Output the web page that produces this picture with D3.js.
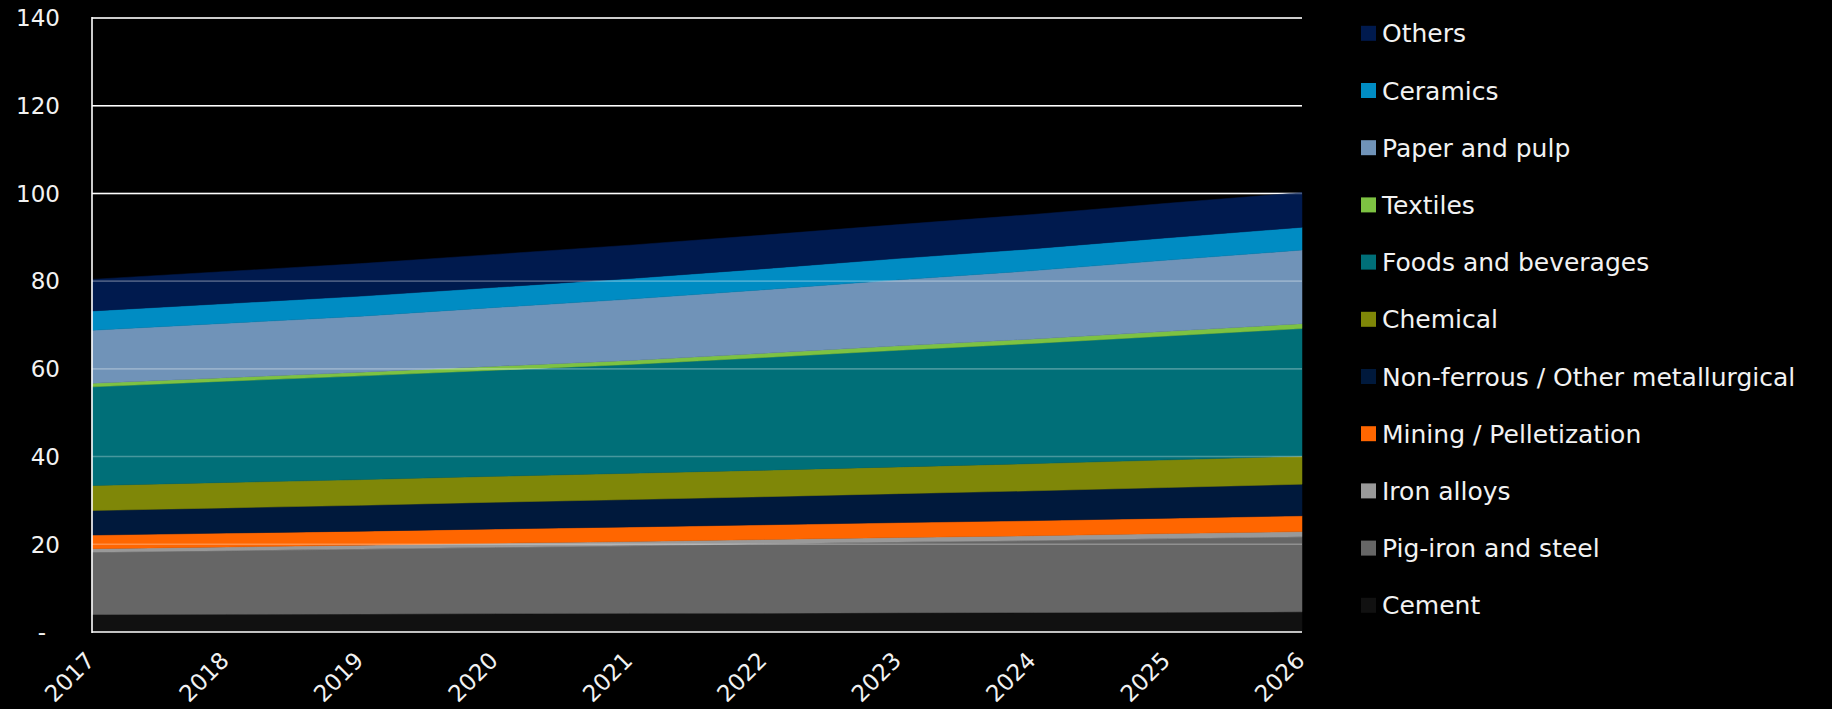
<!DOCTYPE html>
<html>
<head>
<meta charset="utf-8">
<script src="https://cdn.jsdelivr.net/npm/d3@7"></script>
<style>
  html, body { margin: 0; padding: 0; background: #000; }
  svg { display: block; }
  text { font-family: "Century Gothic", "DejaVu Sans", sans-serif; fill: #f2f2f2; }
</style>
</head>
<body>
<svg id="chart" width="1832" height="709"></svg>
<script>
// years on the x axis
var years = [2017, 2018, 2019, 2020, 2021, 2022, 2023, 2024, 2025, 2026];

// series values (bottom of the stack first)
var cement      = [4.0, 4.05, 4.1, 4.2, 4.25, 4.3, 4.4, 4.45, 4.5, 4.6];
var pigIron     = [14.2, 14.5, 14.8, 15.1, 15.4, 15.8, 16.1, 16.4, 16.8, 17.1];
var ironAlloys  = [0.8, 0.85, 0.9, 0.95, 1.0, 1.0, 1.05, 1.1, 1.15, 1.2];
var mining      = [3.1, 3.15, 3.2, 3.25, 3.3, 3.35, 3.4, 3.45, 3.5, 3.6];
var nonFerrous  = [5.6, 5.75, 5.9, 6.1, 6.25, 6.4, 6.6, 6.8, 7.0, 7.2];
var chemical    = [5.7, 5.8, 5.85, 5.9, 6.0, 6.05, 6.1, 6.2, 6.3, 6.4];
var foods       = [22.5, 23.1, 23.65, 24.2, 24.8, 25.7, 26.6, 27.4, 28.25, 29.1];
var textiles    = [0.8, 0.8, 0.85, 0.9, 0.9, 0.95, 1.0, 1.0, 1.05, 1.1];
var paper       = [12.1, 12.4, 12.75, 13.4, 14.0, 14.5, 15.05, 15.6, 16.25, 16.8];
var ceramics    = [4.4, 4.5, 4.6, 4.6, 4.7, 4.8, 4.9, 5.0, 5.1, 5.2];
var others      = [7.2, 7.3, 7.4, 7.5, 7.6, 7.65, 7.7, 7.8, 7.85, 7.9];

var seriesNames = ["Cement", "Pig-iron and steel", "Iron alloys", "Mining / Pelletization",
  "Non-ferrous / Other metallurgical", "Chemical", "Foods and beverages", "Textiles",
  "Paper and pulp", "Ceramics", "Others"];
var seriesValues = [cement, pigIron, ironAlloys, mining, nonFerrous, chemical, foods,
  textiles, paper, ceramics, others];
var seriesColors = ["#111111", "#666666", "#999999", "#ff6600", "#00193c", "#7f8708",
  "#006f78", "#7dc242", "#7093b8", "#008cc3", "#001a4e"];

var yTicks = [0, 20, 40, 60, 80, 100, 120, 140];

// build rows for d3.stack
var rows = years.map(function(yr, i) {
  var r = { year: yr };
  seriesNames.forEach(function(n, k) { r[n] = seriesValues[k][i]; });
  return r;
});

var svg = d3.select("#chart");
var plotLeft = 92, plotRight = 1302, plotTop = 18, plotBottom = 632;

var x = d3.scaleLinear().domain([2017, 2026]).range([plotLeft, plotRight]);
var y = d3.scaleLinear().domain([0, 140]).range([plotBottom, plotTop]);
var color = d3.scaleOrdinal().domain(seriesNames).range(seriesColors);

var stack = d3.stack().keys(seriesNames);
var layers = stack(rows);

var area = d3.area()
  .x(function(d) { return x(d.data.year); })
  .y0(function(d) { return y(d[0]); })
  .y1(function(d) { return y(d[1]); });

// gridlines underneath (show pure white above the areas)
svg.append("g").selectAll("line")
  .data(yTicks.filter(function(t) { return t > 0; }))
  .join("line")
  .attr("x1", plotLeft).attr("x2", plotRight)
  .attr("y1", function(d) { return y(d); })
  .attr("y2", function(d) { return y(d); })
  .attr("stroke", "#ffffff")
  .attr("stroke-width", 1.6);

svg.append("g").selectAll("path")
  .data(layers)
  .join("path")
  .attr("d", area)
  .attr("fill", function(d) { return color(d.key); })
  .attr("stroke", function(d) { return color(d.key); })
  .attr("stroke-width", 0.5);

// faint gridlines on top of the areas
svg.append("g").selectAll("line")
  .data(yTicks.filter(function(t) { return t > 0; }))
  .join("line")
  .attr("x1", plotLeft).attr("x2", plotRight)
  .attr("y1", function(d) { return y(d); })
  .attr("y2", function(d) { return y(d); })
  .attr("stroke", "#ffffff")
  .attr("stroke-opacity", 0.28)
  .attr("stroke-width", 1.6);

// axis lines
svg.append("line")
  .attr("x1", plotLeft).attr("x2", plotLeft).attr("y1", plotTop - 1).attr("y2", plotBottom + 1)
  .attr("stroke", "#ffffff").attr("stroke-width", 1.6);
svg.append("line")
  .attr("x1", plotLeft).attr("x2", plotRight).attr("y1", plotBottom).attr("y2", plotBottom)
  .attr("stroke", "#ffffff").attr("stroke-width", 1.6);

// y tick labels
svg.append("g").selectAll("text")
  .data(yTicks)
  .join("text")
  .attr("x", function(d) { return d === 0 ? 46 : 60; })
  .attr("y", function(d) { return y(d); })
  .attr("dy", "0.36em")
  .attr("text-anchor", "end")
  .style("font-size", "23px")
  .text(function(d) { return d === 0 ? "-" : d; });

// x tick labels, rotated
svg.append("g").selectAll("text")
  .data(years)
  .join("text")
  .attr("transform", function(d) { return "translate(" + (x(d) + 4) + ",662) rotate(-45)"; })
  .attr("text-anchor", "end")
  .style("font-size", "23px")
  .text(function(d) { return d; });

// legend, top of stack first
var legendItems = seriesNames.slice().reverse();
var legend = svg.append("g").selectAll("g")
  .data(legendItems)
  .join("g")
  .attr("transform", function(d, i) { return "translate(1361," + (33.3 + i * 57.2) + ")"; });

legend.append("rect")
  .attr("x", 0).attr("y", -7.5)
  .attr("width", 15).attr("height", 15)
  .attr("fill", function(d) { return color(d); });

legend.append("text")
  .attr("x", 21)
  .attr("dy", "0.36em")
  .style("font-size", "25px")
  .text(function(d) { return d; });
</script>
</body>
</html>
